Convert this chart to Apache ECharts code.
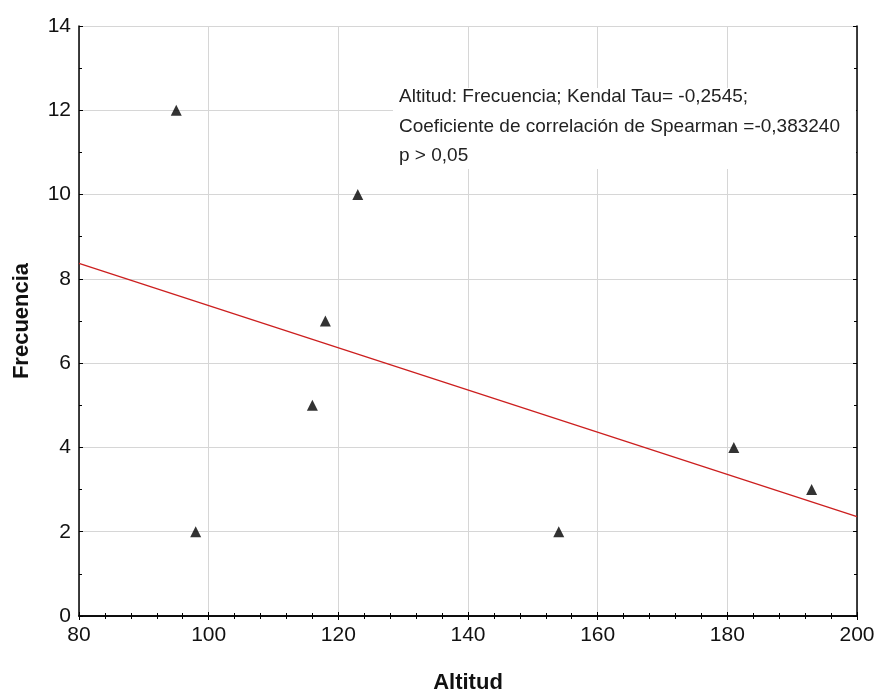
<!DOCTYPE html>
<html><head><meta charset="utf-8">
<script src="https://cdn.jsdelivr.net/npm/echarts@6/dist/echarts.min.js"></script>
<style>html,body{margin:0;padding:0;background:#fff}#c{width:877px;height:693px}</style>
</head><body><div id="c"></div>
<script>
var altitud = [95, 98, 116, 118, 123, 154, 181, 193];
var frecuencia = [12, 2, 5, 7, 10, 2, 4, 3];
var fitX = [80, 200];
var fitY = [8.37, 2.36];
var annotationLines = [
  'Altitud: Frecuencia; Kendal Tau= -0,2545;',
  'Coeficiente de correlación de Spearman =-0,383240',
  'p > 0,05'
];
var xTitle = 'Altitud', yTitle = 'Frecuencia';

var pts = altitud.map(function(x, i){ return [x, frecuencia[i]]; });
var fit = fitX.map(function(x, i){ return [x, fitY[i]]; });
var FONT = 'Liberation Sans, Arial, sans-serif';
var chart = echarts.init(document.getElementById('c'));
var axisLine = {show:true, lineStyle:{color:'#000', width:1.5}};
var split = {show:true, lineStyle:{color:'#d6d6d6', width:1}};
chart.setOption({
  backgroundColor:'#fff',
  animation:false,
  grid:{left:79, right:20, top:26, bottom:77, containLabel:false, outerBoundsMode:'none'},
  xAxis:[{
    type:'value', min:80, max:200, interval:20,
    axisLine:axisLine,
    axisTick:{show:true, inside:true, length:4, lineStyle:{color:'#000'}},
    minorTick:{show:true, splitNumber:5, length:3, lineStyle:{color:'#000'}},
    splitLine:split,
    axisLabel:{color:'#111', fontSize:21, fontFamily:FONT, margin:9},
    name:xTitle, nameLocation:'middle', nameGap:56,
    nameTextStyle:{fontSize:22, fontWeight:'bold', color:'#111', fontFamily:FONT}
  },{
    type:'value', position:'top', min:80, max:200, interval:20,
    axisLine:axisLine,
    axisTick:{show:true, inside:true, length:4, lineStyle:{color:'#000'}},
    minorTick:{show:true, splitNumber:5, length:3, lineStyle:{color:'#000'}},
    splitLine:{show:false}, axisLabel:{show:false}
  }],
  yAxis:[{
    type:'value', min:0, max:14, interval:2,
    axisLine:axisLine,
    axisTick:{show:true, inside:true, length:4, lineStyle:{color:'#000'}},
    minorTick:{show:true, splitNumber:2, length:3, lineStyle:{color:'#000'}},
    splitLine:split,
    axisLabel:{color:'#111', fontSize:21, fontFamily:FONT, margin:8},
    name:yTitle, nameLocation:'middle', nameGap:46, nameRotate:90,
    nameTextStyle:{fontSize:22, fontWeight:'bold', color:'#111', fontFamily:FONT}
  },{
    type:'value', position:'right', min:0, max:14, interval:2,
    axisLine:axisLine,
    axisTick:{show:true, inside:true, length:4, lineStyle:{color:'#000'}},
    minorTick:{show:true, splitNumber:2, length:3, lineStyle:{color:'#000'}},
    splitLine:{show:false}, axisLabel:{show:false}
  }],
  graphic:[
    {type:'rect', shape:{x:393, y:88, width:463, height:81}, style:{fill:'#fff'}, z:5},
    {type:'text', x:399, y:97, style:{text:annotationLines[0], font:'19px '+FONT, fill:'#222', textVerticalAlign:'middle'}, z:6},
    {type:'text', x:399, y:127, style:{text:annotationLines[1], font:'19px '+FONT, fill:'#222', textVerticalAlign:'middle'}, z:6},
    {type:'text', x:399, y:156, style:{text:annotationLines[2], font:'19px '+FONT, fill:'#222', textVerticalAlign:'middle'}, z:6}
  ],
  series:[
    {type:'line', data:fit, symbol:'none', lineStyle:{color:'#cc1f1f', width:1.3}, z:3, silent:true},
    {type:'scatter', data:pts, symbol:'triangle', symbolSize:[11,11], itemStyle:{color:'#000'}, z:10}
  ]
});
</script></body></html>
